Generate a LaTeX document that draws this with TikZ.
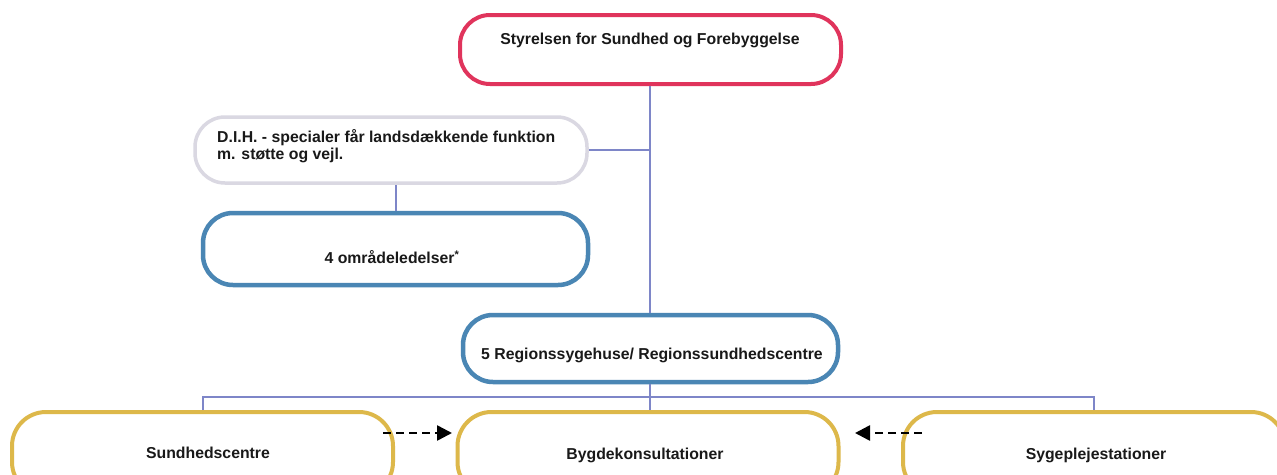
\documentclass[tikz,border=0pt]{standalone}
\usepackage{fontspec}
\setmainfont{Liberation Sans}
\usetikzlibrary{arrows.meta}
\definecolor{cred}{HTML}{E0345C}
\definecolor{cblue}{HTML}{4A86B4}
\definecolor{cgold}{HTML}{DDB84A}
\definecolor{cgray}{HTML}{DAD8E2}
\definecolor{cline}{HTML}{7E86C8}
\tikzset{
  box/.style={draw, line width=4pt, rounded corners=30pt, fill=white, inner sep=0pt},
  lbl/.style={font=\fontsize{15.8pt}{17pt}\selectfont\bfseries, inner sep=0pt, text=black!90},
  conn/.style={draw=cline, line width=2pt},
  darr/.style={draw=black, line width=2.6pt, dash pattern=on 8pt off 5pt, -{Triangle[length=15pt,width=15pt]}}
}
\begin{document}
\begin{tikzpicture}[x=1pt,y=-1pt]
\clip (0,0) rectangle (1277,474);
\fill[white] (0,0) rectangle (1277,474);
% boxes
\node[box, draw=cred, minimum width=381pt, minimum height=69pt] (top) at (650.5,49.5) {};
\node[box, draw=cgray, line width=3.5pt, minimum width=392pt, minimum height=66pt] (dih) at (391,150) {};
\node[box, draw=cblue, line width=4.5pt, minimum width=385pt, minimum height=72pt] (omr) at (395.5,249) {};
\node[box, draw=cblue, line width=4.5pt, minimum width=375pt, minimum height=67pt] (reg) at (650.5,348.5) {};
\node[box, draw=cgold, minimum width=381pt, minimum height=84pt, rounded corners=34pt] (sund) at (202.5,454) {};
\node[box, draw=cgold, minimum width=381pt, minimum height=84pt, rounded corners=34pt] (bygde) at (648,454) {};
\node[box, draw=cgold, minimum width=382pt, minimum height=84pt, rounded corners=34pt] (syge) at (1094,454) {};
% labels
\node[lbl] (ttop) at (650,40) {Styrelsen for Sundhed og Forebyggelse};
\node[lbl, anchor=west, align=left] (tdih) at (217,146.5) {D.I.H. - specialer får landsdækkende funktion\\m. støtte og vejl.};
\node[lbl] (tomr) at (392,257) {4 områdeledelser\textsuperscript{*}};
\node[lbl] (treg) at (652,355) {5 Regionssygehuse/ Regionssundhedscentre};
\node[lbl] (tsund) at (208,453) {Sundhedscentre};
\node[lbl] (tbygde) at (645,455) {Bygdekonsultationer};
\node[lbl] (tsyge) at (1096,455) {Sygeplejestationer};
% connectors
\coordinate (bus) at (650,397);
\draw[conn] (top.south -| 650,0) -- (reg.north -| 650,0);
\draw[conn] (dih.east) -- (dih.east -| 650,0);
\draw[conn] (omr.north) -- (omr.north |- dih.south);
\draw[conn] (reg.south -| bus) -- (bus);
\draw[conn] (sund.north) |- (bus) -| (syge.north);
\draw[conn] (bus) -- (bus |- bygde.north);
% dashed arrows
\coordinate (a1s) at (383,433);
\coordinate (a1e) at (452,433);
\coordinate (a2s) at (922,433);
\coordinate (a2e) at (855,433);
\draw[darr] (a1s) -- (a1e);
\draw[darr] (a2s) -- (a2e);
\end{tikzpicture}
\end{document}
